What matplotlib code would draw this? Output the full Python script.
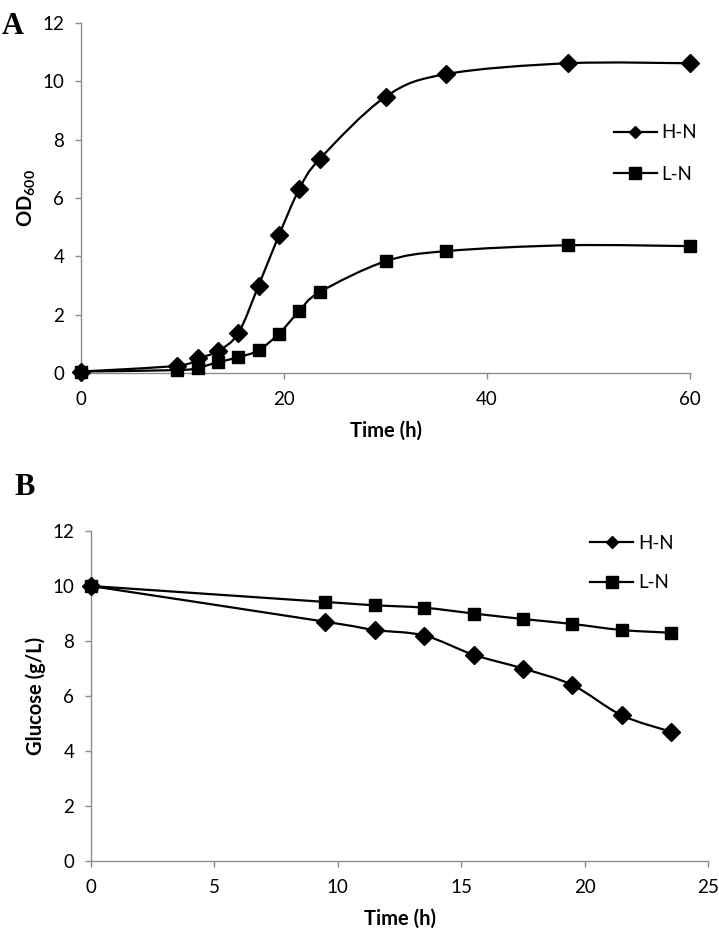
import numpy as np
import matplotlib
matplotlib.use("Agg")
import matplotlib.pyplot as plt
from matplotlib.path import Path
from matplotlib.patches import PathPatch
from matplotlib.lines import Line2D

# ---------------- data ----------------
# Panel A: OD600 growth curves
time_a = [0, 9.5, 11.5, 13.5, 15.5, 17.5, 19.5, 21.5, 23.5, 30, 36, 48, 60]
od_hn = [0.05, 0.25, 0.5, 0.75, 1.37, 3.0, 4.72, 6.3, 7.33, 9.47, 10.25, 10.62, 10.62]
od_ln = [0.05, 0.1, 0.18, 0.37, 0.54, 0.78, 1.35, 2.12, 2.77, 3.83, 4.18, 4.38, 4.35]

# Panel B: glucose consumption
time_b = [0, 9.5, 11.5, 13.5, 15.5, 17.5, 19.5, 21.5, 23.5]
glc_hn = [10.0, 8.7, 8.4, 8.2, 7.5, 7.0, 6.4, 5.3, 4.7]
glc_ln = [10.0, 9.42, 9.3, 9.21, 9.0, 8.8, 8.62, 8.4, 8.3]

series_labels = ["H-N", "L-N"]
xticks_a = [0, 20, 40, 60]
xticks_b = [0, 5, 10, 15, 20, 25]
yticks = [0, 2, 4, 6, 8, 10, 12]

# ---------------- style ----------------
FONT = "Lato"
plt.rcParams["font.family"] = [FONT, "DejaVu Sans"]
plt.rcParams["mathtext.fontset"] = "custom"
plt.rcParams["mathtext.rm"] = FONT
plt.rcParams["mathtext.bf"] = FONT + ":bold"
SPINE = "#8c8c8c"
TICK_FS = 13.5
LABEL_FS = 14.5
LEG_FS = 13.5


def smooth_line(ax, x, y, lw=1.6):
    """Excel-like smoothed line (Catmull-Rom as cubic Bezier) in data coords."""
    pts = np.column_stack([np.asarray(x, float), np.asarray(y, float)])
    n = len(pts)
    verts = [pts[0]]
    codes = [Path.MOVETO]
    for i in range(n - 1):
        p0 = pts[i - 1] if i > 0 else pts[i]
        p1 = pts[i]
        p2 = pts[i + 1]
        p3 = pts[i + 2] if i + 2 < n else pts[i + 1]
        c1 = p1 + (p2 - p0) / 6.0
        c2 = p2 - (p3 - p1) / 6.0
        verts += [c1, c2, p2]
        codes += [Path.CURVE4] * 3
    patch = PathPatch(Path(verts, codes), facecolor="none", edgecolor="black",
                      lw=lw, transform=ax.transData, zorder=2)
    ax.add_patch(patch)


def style_axes(ax, xlim, xticks):
    ax.set_xlim(*xlim)
    ax.set_ylim(0, 12)
    ax.set_xticks(xticks)
    ax.set_yticks(yticks)
    for s in ["top", "right"]:
        ax.spines[s].set_visible(False)
    for s in ["left", "bottom"]:
        ax.spines[s].set_color(SPINE)
        ax.spines[s].set_linewidth(1.0)
    ax.tick_params(axis="both", direction="out", length=4, width=1.0,
                   color=SPINE, labelsize=TICK_FS, labelcolor="black")
    ax.tick_params(axis="y", pad=8)
    ax.tick_params(axis="x", pad=9)


def make_legend(ax, anchor, spacing):
    handles = [
        Line2D([], [], color="black", lw=1.6, marker="D", markersize=6.5,
               markerfacecolor="black", markeredgecolor="black"),
        Line2D([], [], color="black", lw=1.6, marker="s", markersize=8,
               markerfacecolor="black", markeredgecolor="black"),
    ]
    leg = ax.legend(handles, series_labels, loc="upper left",
                    bbox_to_anchor=anchor, frameon=False, fontsize=LEG_FS,
                    handlelength=2.3, handletextpad=0.25,
                    labelspacing=spacing, borderpad=0, borderaxespad=0)
    return leg


fig = plt.figure(figsize=(7.19, 9.31), dpi=100)

# ---------------- Panel A ----------------
axA = fig.add_axes([81 / 719, 1 - 373 / 931, (690 - 81) / 719, 350 / 931])
style_axes(axA, (0, 60), xticks_a)
smooth_line(axA, time_a, od_hn)
smooth_line(axA, time_a, od_ln)
axA.plot(time_a, od_hn, linestyle="none", marker="D", markersize=9.5,
         color="black", zorder=3, clip_on=False)
axA.plot(time_a, od_ln, linestyle="none", marker="s", markersize=9,
         color="black", zorder=3, clip_on=False)
axA.set_xlabel("Time (h)", fontsize=LABEL_FS, fontweight="bold", labelpad=9)
axA.set_ylabel(r"$\mathbf{OD}_{\mathbf{600}}$", fontsize=LABEL_FS, labelpad=3)
make_legend(axA, (0.875, 0.711), 1.3)
fig.text(2 / 719, 1 - 12 / 931, "A", fontsize=22, fontweight="bold",
         family=["Liberation Serif"], va="top", ha="left")

# ---------------- Panel B ----------------
axB = fig.add_axes([91 / 719, 1 - 861 / 931, (708 - 91) / 719, 330 / 931])
style_axes(axB, (0, 25), xticks_b)
smooth_line(axB, time_b, glc_hn)
smooth_line(axB, time_b, glc_ln)
axB.plot(time_b, glc_hn, linestyle="none", marker="D", markersize=9.5,
         color="black", zorder=3, clip_on=False)
axB.plot(time_b, glc_ln, linestyle="none", marker="s", markersize=9,
         color="black", zorder=3, clip_on=False)
axB.set_xlabel("Time (h)", fontsize=LABEL_FS, fontweight="bold", labelpad=9)
axB.set_ylabel("Glucose (g/L)", fontsize=LABEL_FS, fontweight="bold", labelpad=5)
make_legend(axB, (0.809, 0.988), 1.2)
fig.text(14 / 719, 1 - 473 / 931, "B", fontsize=22, fontweight="bold",
         family=["Liberation Serif"], va="top", ha="left")

fig.savefig("out.png", dpi=100)
